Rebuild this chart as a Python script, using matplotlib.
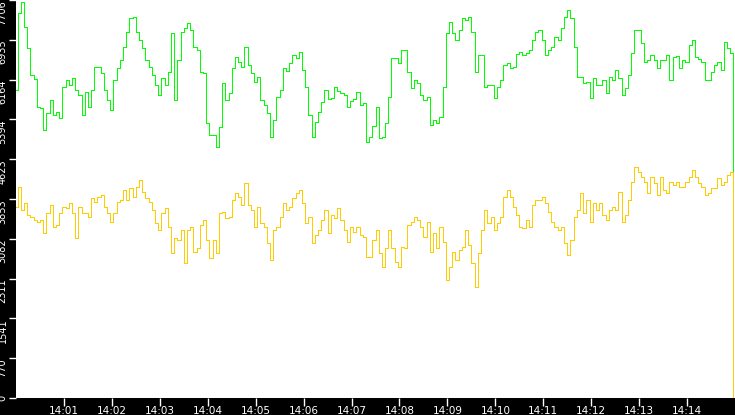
import matplotlib
matplotlib.use('Agg')
import matplotlib.pyplot as plt
import numpy as np

# Sampled every 4 seconds from 14:00:00, last point is the drop at the end
sample_sec = 4
end_sec = 898

green = [5963, 7448, 7674, 7190, 6770, 6254, 6170, 5641, 5608, 5189,
         5512, 5770, 5479, 5544, 5415, 6015, 6157, 6060, 6189, 5963,
         5867, 5479, 5931, 5641, 5963, 6415, 6415, 6286, 5963, 5770,
         5576, 6157, 6383, 6544, 6802, 7093, 7351, 7383, 7093, 6932,
         6770, 6544, 6415, 6254, 6060, 5867, 6189, 6060, 6318, 7061,
         5770, 6544, 7093, 7157, 7254, 7125, 6802, 6738,
         6318, 6286, 5318, 5092, 5092, 4866, 5253, 6092, 5770, 5899,
         6383, 6609, 6512, 6415, 6802, 6447, 6286, 6125, 6209, 5770,
         5673, 5512, 5060, 5383, 5834, 5963, 6383, 6338, 6480, 6641,
         6577, 6706, 6351, 6015, 5479, 5060, 5350, 5544, 5738, 5963,
         5783, 5802, 6015, 5944, 5899, 5867, 5628, 5757, 5789, 5931,
         5673, 5718, 4963, 5060, 5266, 5641,
         5028, 5060, 5318, 5834, 6577, 6577, 6480, 6738, 6738, 6318,
         5996, 6157, 6092, 5867, 5770, 5834, 5286, 5383, 5318, 5447,
         6028, 7061, 7286, 7061, 6932, 7125, 7351, 7319, 7370, 7093,
         6318, 6641, 6641, 6028, 6060, 6060, 5802, 6028, 6157, 6447,
         6480, 6383, 6415, 6660, 6706, 6641, 6673, 6738, 6932, 7093,
         7125, 6932, 6641, 6738, 6802, 6996,
         6932, 7157, 7383, 7512, 7351, 6802, 6222, 6222, 6092, 6125,
         5802, 6189, 6060, 6060, 6157, 5899, 6222, 6157, 6351, 6189,
         5867, 5996, 6254, 6673, 7125, 7125, 6867, 6512, 6544, 6641,
         6544, 6383, 6544, 6544, 6641, 6157, 6609, 6622, 6383, 6544,
         6512, 6835, 6932, 6609, 6557, 6512, 6157, 6157, 6318, 6447,
         6512, 6351, 6899, 6770, 6673,
         2190]

gold = [3705, 4092, 3640, 3769, 3543, 3511, 3446, 3414, 3446, 3188,
        3575, 3737, 3317, 3350, 3575, 3705, 3672, 3769, 3575, 3091,
        3705, 3575, 3575, 3511, 3866, 3801, 3898, 3930, 3705, 3575,
        3414, 3575, 3801, 3834, 4027, 3834, 4059, 3898, 4092, 4221,
        3995, 3866, 3801, 3640, 3382, 3253, 3575, 3672, 3317, 2801,
        3091, 3059, 3253, 2607, 3253, 3317, 2833, 2898,
        3350, 3446, 3059, 2704, 3059, 2801, 3575, 3608, 3479, 3511,
        3834, 3963, 3898, 3737, 4156, 3737, 3640, 3317, 3705, 3382,
        3317, 2995, 2672, 3253, 3317, 3511, 3769, 3640, 3705, 3866,
        3963, 4027, 3769, 3382, 3511, 2995, 3156, 3253, 3446, 3640,
        3188, 3543, 3479, 3672, 3446, 3253, 3027, 3317, 3220, 3317,
        3156, 3124, 2736, 2736, 3059, 3253,
        2801, 2543, 2898, 3253, 2898, 2640, 2543, 2930, 2898, 3350,
        3414, 3511, 3446, 3317, 3124, 3414, 2833, 3188, 2898, 3317,
        3027, 2285, 2543, 2833, 2672, 2865, 2930, 3253, 2962, 2607,
        2156, 2801, 3253, 3640, 3382, 3511, 3253, 3382, 3511, 3898,
        4027, 3898, 3705, 3543, 3317, 3285, 3446, 3317, 3737, 3834,
        3834, 3898, 3769, 3608, 3414, 3317,
        3253, 3317, 2995, 2769, 3059, 3511, 3640, 3963, 3575, 3834,
        3414, 3769, 3640, 3769, 3543, 3446, 3640, 3705, 3640, 3995,
        3414, 3543, 3834, 4189, 4479, 4382, 4285, 4189, 3963, 4285,
        4156, 3930, 4285, 4027, 3963, 4189, 4124, 4189, 4092, 4092,
        4189, 4285, 4414, 4285, 4156, 4092, 3930, 3963, 4059, 4059,
        4253, 4124, 4189, 4318, 4382,
        0]

y_ticks = [0, 770, 1541, 2311, 3082, 3853, 4623, 5394, 6164, 6935, 7706]
x_ticks = [60, 120, 180, 240, 300, 360, 420, 480, 540, 600, 660, 720, 780, 840]
x_labels = ['14:01', '14:02', '14:03', '14:04', '14:05', '14:06', '14:07',
            '14:08', '14:09', '14:10', '14:11', '14:12', '14:13', '14:14']

t = list(np.arange(len(green) - 1) * sample_sec) + [end_sec]

fig = plt.figure(figsize=(7.35, 4.15), dpi=100, facecolor='black')
ax = fig.add_axes([16 / 735, 17 / 415, 719 / 735, 398 / 415])
ax.set_facecolor('white')

ax.plot(t, green, color='#00ff00', lw=0.72, drawstyle='steps-mid', antialiased=False)
ax.plot(t, gold, color='#ffcc00', lw=0.72, drawstyle='steps-mid', antialiased=False)

ax.set_xlim(0, 900)
ax.set_ylim(0, 7706)
for s in ax.spines.values():
    s.set_visible(False)

ax.set_yticks(y_ticks)
ax.set_yticklabels([str(v) for v in y_ticks], rotation=90, va='top', fontsize=7)
ax.get_yticklabels()[0].set_va('center')
ax.tick_params(axis='y', colors='white', length=5, width=1, pad=1)

ax.set_xticks(x_ticks)
ax.set_xticklabels(x_labels, fontsize=7.5)
ax.tick_params(axis='x', colors='white', length=6, width=1, pad=0)

fig.savefig('out.png', dpi=100, facecolor='black')
